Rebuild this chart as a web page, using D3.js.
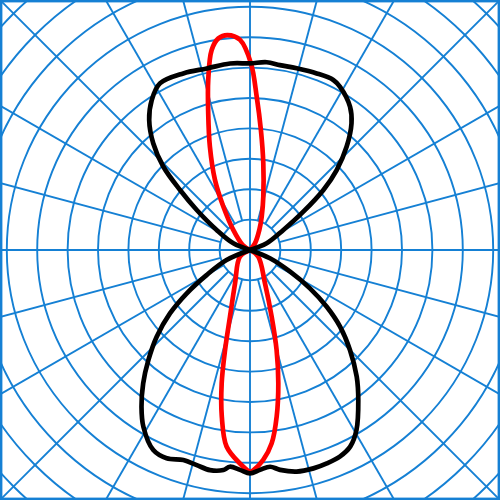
<!DOCTYPE html>
<html>
<head>
<meta charset="utf-8">
<script src="https://cdn.jsdelivr.net/npm/d3@7"></script>
<style>
html,body{margin:0;padding:0;background:#fff;}
svg{display:block;}
</style>
</head>
<body>
<svg id="chart" width="500" height="500"></svg>
<script>
// Grid definition (ring units, angles in degrees clockwise from top)
const ringValues = [1,2,3,4,5,6,7,8,9,10,11,12];
const spokeAngles = d3.range(0, 360, 15);

// Black curve, upper lobe
const blackUpperAngles = [-90,-68.2,-59,-53.1,-49.4,-46.1,-42.2,-37.8,-33.2,-28.4,-20.7,-13.4,-6.1,0,5.1,9.2,14.4,20.7,26.1,28.9,34.9,38.7,43.1,47.3,50.7,54.3,59,68.2,90];
const blackUpperValues = [0,0.59,1.28,2.19,3.03,3.96,4.74,5.41,5.90,6.23,6.21,6.14,6.17,6.14,6.20,6.16,6.17,6.21,6.23,6.13,5.75,5.34,4.65,3.88,3.12,2.16,1.28,0.59,0];

// Black curve, lower lobe
const blackLowerAngles = [90,112.6,118.4,122.6,126.5,130.4,135,139.9,144.2,149.4,153,156.5,160.2,163.8,168.1,172.2,174.7,177.4,180,182.6,185.3,186.9,190.3,193.9,197.6,201.8,205.8,211.1,214.7,218.7,222.7,227.1,231.6,235.6,240,246.8,270];
const blackLowerValues = [0,0.71,1.50,2.34,3.14,3.89,4.65,5.45,6.09,6.88,7.26,7.41,7.46,7.48,7.45,7.30,7.16,7.24,7.35,7.24,7.16,7.29,7.36,7.29,7.25,7.38,7.31,6.79,6.27,5.62,4.93,4.19,3.36,2.52,1.65,0.84,0];

// Red curve, upper lobe
const redUpperAngles = [-70,-55,-39.8,-31.6,-26.6,-21.2,-17,-13.8,-10.85,-8.5,-6,-2.7,0.3,2.5,5.2,8.7,14,19.4,24.9,36.9,50];
const redUpperValues = [0,0.3,0.86,1.67,2.57,3.65,4.70,5.76,6.70,7.04,7.11,6.92,6.14,5.05,3.96,2.89,1.81,1.16,0.73,0.27,0];

// Red curve, lower lobe
const redLowerAngles = [110,128.7,155.8,162,165.1,168,170.9,173.6,176.4,179.1,180,182.7,186.8,189.6,192,194,196.7,204.2,236.3,250];
const redLowerValues = [0,0.35,1.20,2.31,3.40,4.48,5.55,6.40,6.92,7.24,7.29,7.03,6.51,5.56,4.48,3.39,2.29,1.20,0.40,0];

const W = 500, H = 500, cx = 250, cy = 250;
const gridColor = "#1580d4";

const svg = d3.select("#chart");
svg.append("rect").attr("width", W).attr("height", H).attr("fill", "#fff");

const r = d3.scaleLinear().domain([0, 1]).range([0, 30.4]);
const toRad = d => d * Math.PI / 180;

const g = svg.append("g").attr("transform", `translate(${cx},${cy})`);

// rings
g.selectAll("circle.ring").data(ringValues).join("circle")
  .attr("class", "ring")
  .attr("r", d => r(d))
  .attr("fill", "none")
  .attr("stroke", gridColor)
  .attr("stroke-width", 1.9);

// spokes
const rOuter = r(13);
g.selectAll("line.spoke").data(spokeAngles).join("line")
  .attr("class", "spoke")
  .attr("x1", d => (d % 90 === 0 ? 0 : r(1)) * Math.sin(toRad(d)))
  .attr("y1", d => -(d % 90 === 0 ? 0 : r(1)) * Math.cos(toRad(d)))
  .attr("x2", d => rOuter * Math.sin(toRad(d)))
  .attr("y2", d => -rOuter * Math.cos(toRad(d)))
  .attr("stroke", gridColor)
  .attr("stroke-width", 1.9);

// curves
const line = d3.lineRadial()
  .angle(d => toRad(d[0]))
  .radius(d => r(d[1]))
  .curve(d3.curveCatmullRom.alpha(0.5));

function lobe(angles, values) { return angles.map((a, i) => [a, values[i]]); }

const curves = [
  {pts: lobe(redUpperAngles, redUpperValues), color: "#ff0000"},
  {pts: lobe(redLowerAngles, redLowerValues), color: "#ff0000"},
  {pts: lobe(blackUpperAngles, blackUpperValues), color: "#000000"},
  {pts: lobe(blackLowerAngles, blackLowerValues), color: "#000000"}
];

g.selectAll("path.curve").data(curves).join("path")
  .attr("class", "curve")
  .attr("d", d => line(d.pts))
  .attr("fill", "none")
  .attr("stroke", d => d.color)
  .attr("stroke-width", 4.7)
  .attr("stroke-linejoin", "round")
  .attr("stroke-linecap", "round");

// frame
svg.append("rect")
  .attr("x", 1.2).attr("y", 1.2)
  .attr("width", W - 2.4).attr("height", H - 2.4)
  .attr("fill", "none")
  .attr("stroke", gridColor)
  .attr("stroke-width", 2.4);
</script>
</body>
</html>
